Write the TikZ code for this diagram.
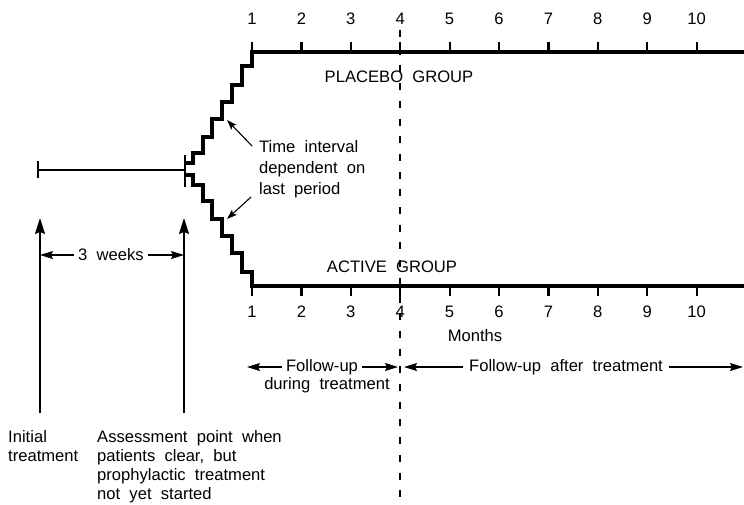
\documentclass[tikz,border=0pt]{standalone}
\usepackage{fontspec}
\setmainfont{Liberation Sans}
\usetikzlibrary{arrows.meta}
\begin{document}
\begin{tikzpicture}[x=1pt,y=-1pt,
  lab/.style={font=\fontsize{16.6}{19}\selectfont, inner sep=0pt},
  heavy/.style={line width=3.6pt, line join=miter},
  light/.style={line width=1.1pt},
  ticky/.style={line width=2.2pt},
  bigtip/.style={-{Stealth[length=16pt,width=10pt,inset=2pt]}},
  midtip/.style={-{Stealth[length=13pt,width=8pt,inset=2pt]}},
  smalltip/.style={-{Stealth[length=10pt,width=7pt,inset=2pt]}},
  ]
\useasboundingbox (0,0) rectangle (744,504);
% dashed divider
\coordinate (d0) at (400,30);
\coordinate (d1) at (400,504);
\draw[line width=1.2pt, dash pattern=on 7pt off 10.7pt] (d0) -- (d1);
% baseline before assessment
\coordinate (b0) at (38,170);
\coordinate (b1) at (185,170);
\draw[light] (b0) -- (b1);
\draw[light] (38,161) -- (38,178);
\draw[line width=2.5pt] (185,155) -- (185,187);
% placebo staircase and line
\draw[heavy] (185,163) -- (193,163) -- (193,153) -- (203,153) -- (203,137) -- (212,137)
  -- (212,119) -- (222,119) -- (222,102) -- (232,102) -- (232,85) -- (242,85)
  -- (242,66) -- (252,66) -- (252,52) -- (746,52);
% active staircase and line
\draw[heavy] (185,175) -- (193,175) -- (193,185) -- (203,185) -- (203,201) -- (212,201)
  -- (212,219) -- (222,219) -- (222,236) -- (232,236) -- (232,253) -- (242,253)
  -- (242,272) -- (252,272) -- (252,286) -- (746,286);
% ticks and labels
\foreach \m in {1,...,10} {
  \pgfmathsetmacro\xx{252+(\m-1)*49.4}
  \draw[ticky] (\xx,52) -- (\xx,42);
  \draw[ticky] (\xx,286) -- (\xx,296);
  \node[lab] (t\m) at (\xx,19) {\m};
  \node[lab] (u\m) at (\xx,312) {\m};
}
\node[lab] (placebo) at (399,77) {PLACEBO\ \ GROUP};
\node[lab] (active) at (392,267) {ACTIVE\ \ GROUP};
\node[lab] (months) at (475,336) {Months};
% time interval annotation
\node[lab, anchor=north west, align=left, font=\fontsize{16.6}{21}\selectfont] (ti) at (259,140)
  {Time\ \ interval\\dependent\ \ on\\last\ \ period};
\coordinate (a1s) at (252,146);
\coordinate (a1e) at (227,120);
\coordinate (a2s) at (251,197);
\coordinate (a2e) at (227,219);
\draw[light, smalltip] (a1s) -- (a1e);
\draw[light, smalltip] (a2s) -- (a2e);
% vertical markers
\coordinate (i0) at (40,413);
\coordinate (i1) at (40,218);
\coordinate (s0) at (184,413);
\coordinate (s1) at (184,218);
\draw[light, bigtip] (i0) -- (i1);
\draw[light, bigtip] (s0) -- (s1);
% 3 weeks
\node[lab] (wk) at (111,255) {3\ \ weeks};
\coordinate (w0) at (40,255);
\coordinate (w1) at (184,255);
\draw[light, midtip] ([xshift=-4pt]wk.west) -- (w0);
\draw[light, midtip] ([xshift=4pt]wk.east) -- (w1);
% follow-up during treatment
\node[lab] (fu) at (322,367) {Follow-up};
\node[lab] (dt) at (327,385) {during\ \ treatment};
\coordinate (f0) at (247,367);
\coordinate (f1) at (398,367);
\draw[light, midtip] ([xshift=-4pt]fu.west) -- (f0);
\draw[light, midtip] ([xshift=4pt]fu.east) -- (f1);
% follow-up after treatment
\node[lab] (fa) at (566,367) {Follow-up\ \ after\ \ treatment};
\coordinate (g0) at (404,367);
\coordinate (g1) at (743,367);
\draw[light, midtip] ([xshift=-6pt]fa.west) -- (g0);
\draw[light, midtip] ([xshift=6pt]fa.east) -- (g1);
% bottom captions
\node[lab, anchor=north west, align=left] (init) at (8,430) {Initial\\treatment};
\node[lab, anchor=north west, align=left] (assess) at (97,430)
  {Assessment\ \ point\ \ when\\patients\ \ clear,\ \ but\\prophylactic\ \ treatment\\not\ \ yet\ \ started};
\end{tikzpicture}
\end{document}
